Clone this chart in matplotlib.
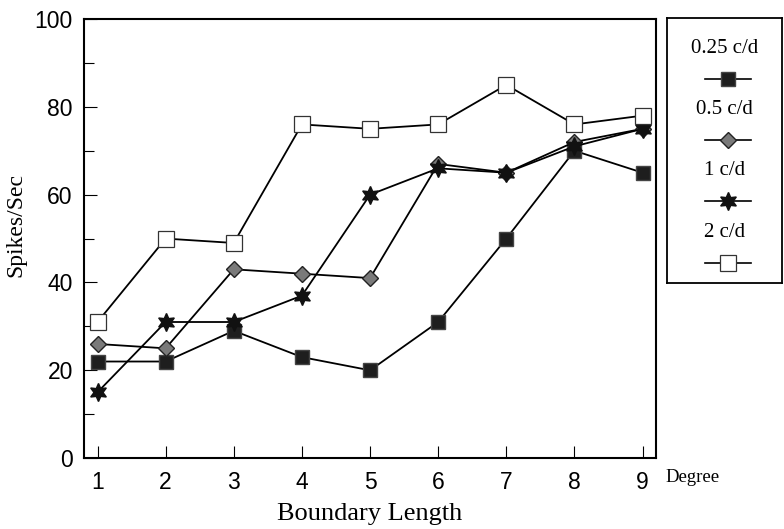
import matplotlib.pyplot as plt
import numpy as np

# data
lengths = [1, 2, 3, 4, 5, 6, 7, 8, 9]
labels = ['0.25 c/d', '0.5 c/d', '1 c/d', '2 c/d']
sf_025 = [22, 22, 29, 23, 20, 31, 50, 70, 65]
sf_05 = [26, 25, 43, 42, 41, 67, 65, 72, 75]
sf_1 = [15, 31, 31, 37, 60, 66, 65, 71, 75]
sf_2 = [31, 50, 49, 76, 75, 76, 85, 76, 78]

styles = [
    dict(marker='s', markersize=10, markerfacecolor='#1e1e1e', markeredgecolor='#444444'),
    dict(marker='D', markersize=8, markerfacecolor='#7a7a7a', markeredgecolor='#222222'),
    dict(marker=(6, 1, 0), markersize=13, markerfacecolor='#111111', markeredgecolor='#111111'),
    dict(marker='s', markersize=12, markerfacecolor='white', markeredgecolor='#333333', markeredgewidth=0.9),
]

serif = ['Liberation Serif', 'DejaVu Serif']
sans = ['Liberation Sans', 'DejaVu Sans']

fig = plt.figure(figsize=(7.84, 5.29), dpi=100)
ax = fig.add_axes([0.107, 0.134, 0.730, 0.830])

for vals, st in zip([sf_025, sf_05, sf_1, sf_2], styles):
    ax.plot(lengths, vals, color='black', linewidth=1.3, **st)

ax.set_xlim(0.8, 9.2)
ax.set_ylim(0, 100)
ax.set_xticks(lengths)
ax.set_yticks(np.arange(0, 101, 20))
ax.set_yticks(np.arange(10, 100, 20), minor=True)
ax.tick_params(direction='in', length=9, width=0.8, labelsize=16.5, pad=8)
ax.tick_params(which='minor', direction='in', length=7, width=0.8)
ax.tick_params(axis='x', pad=9)
for lab in ax.get_xticklabels() + ax.get_yticklabels():
    lab.set_family(sans)
for sp in ax.spines.values():
    sp.set_linewidth(1.5)

ax.set_xlabel('Boundary Length', family=serif, fontsize=19, labelpad=7)
ax.set_ylabel('Spikes/Sec', family=serif, fontsize=17)
ax.yaxis.set_label_coords(-0.1, 0.53)
ax.text(1.016, -0.045, 'Degree', transform=ax.transAxes, family=serif,
        fontsize=13.5, va='center', ha='left')

# legend box with label above each sample
lax = fig.add_axes([0.851, 0.465, 0.147, 0.501])
lax.set_xlim(0, 1)
lax.set_ylim(0, 1)
lax.set_xticks([])
lax.set_yticks([])
for sp in lax.spines.values():
    sp.set_linewidth(1.3)
for i, (lab, st) in enumerate(zip(labels, styles)):
    y_text = 0.885 - i * 0.231
    y_line = y_text - 0.115
    lax.text(0.5, y_text, lab, family=serif, fontsize=15, ha='center', va='center')
    lax.plot([0.33, 0.73], [y_line, y_line], color='black', linewidth=1.2)
    lax.plot([0.53], [y_line], color='black', **st)

fig.savefig('out.png', dpi=100)
